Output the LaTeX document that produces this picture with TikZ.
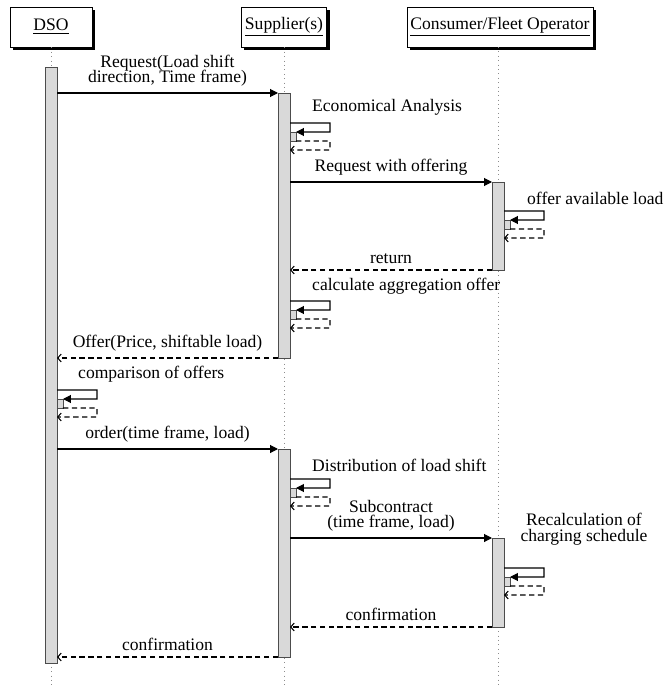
\documentclass[tikz,border=0pt]{standalone}
\usepackage{fontspec}
\setmainfont{Liberation Serif}
\usetikzlibrary{arrows.meta,shadows,fit}

\begin{document}
\begin{tikzpicture}[x=0.02cm, y=-0.02cm,
  actor/.style={draw, fill=white, line width=0.5pt, minimum width=1.64cm,
    minimum height=0.8cm, inner xsep=2pt,
    drop shadow={fill=black, opacity=1, shadow xshift=1.7pt, shadow yshift=-1.7pt}},
  life/.style={draw=black!45, dotted, line width=0.5pt},
  act/.style={draw=black!70, fill=gray!30, line width=0.5pt, inner sep=0pt, outer sep=0pt},
  call/.style={draw=black, line width=0.6pt, -{Triangle[length=4.5pt,width=4.5pt]}},
  ret/.style={draw=black, line width=0.6pt, dash pattern=on 3pt off 2pt,
    -{Straight Barb[length=2pt,width=4.5pt]}},
  every node/.style={font=\fontsize{10}{12}\selectfont}]
\useasboundingbox (0,0) rectangle (671,686);

% actors and lifelines
\node[actor] (dso) at (51,27) {\underline{DSO}};
\node[actor] (sup) at (284,27) {\underline{Supplier(s)}};
\node[actor] (con) at (500,27) {\underline{Consumer/Fleet Operator}};
\draw[life] (dso.south) -- (dso |- 0,686);
\draw[life] (sup.south) -- (sup |- 0,686);
\draw[life] (498,47) -- (498,686);

% activations
\node[act, fit={(45,67) (57,663)}] (d) {};
\node[act, fit={(278,93) (290,358)}] (s1) {};
\node[act, fit={(492,182) (504,270)}] (c1) {};
\node[act, fit={(278,449) (290,657)}] (s2) {};
\node[act, fit={(492,538) (504,627)}] (c2) {};

% messages
\draw[call] (d.east |- s1.north) -- node[above, align=center]
  {Request(Load shift\\[-3pt]direction, Time frame)} (s1.north west);
\draw[call] (s1.east |- c1.north) -- node[above] {Request with offering} (c1.north west);
\draw[ret] (c1.south west) -- node[above] {return} (s1.east |- c1.south);
\draw[ret] (s1.south west) -- node[above] {Offer(Price, shiftable load)} (d.east |- s1.south);
\draw[call] (d.east |- s2.north) -- node[above] {order(time frame, load)} (s2.north west);
\draw[call] (s2.east |- c2.north) -- node[above, align=center]
  {Subcontract\\[-3pt](time frame, load)} (c2.north west);
\draw[ret] (c2.south west) -- node[above] {confirmation} (s2.east |- c2.south);
\draw[ret] (s2.south west) -- node[above] {confirmation} (d.east |- s2.south);

% self calls
\foreach \a/\y in {s1/123, c1/211, s1/301, d/390, s2/479, c2/568} {
  \coordinate (top\y) at (\a.east |- 0,\y);
  \node[act, anchor=north west, minimum width=0.12cm, minimum height=0.18cm]
    (self\y) at ([yshift=-0.18cm]top\y) {};
  \draw[call] (top\y) -- ++(40,0) -- ++(0,9) -- (self\y.north east);
  \draw[ret] (self\y.south east) -- ++(34,0) -- ++(0,9) -- (\a.east |- 0,\y+27);
}
\node[anchor=base west] (l1) at (306,112) {Economical Analysis};
\node[anchor=base west] (l2) at (521,204) {offer available load};
\node[anchor=base west] (l3) at (306,290) {calculate aggregation offer};
\node[anchor=base west] (l4) at (72,378) {comparison of offers};
\node[anchor=base west] (l5) at (306,471) {Distribution of load shift};
\node[anchor=base, align=center] (l6) at (584,541) {Recalculation of\\[-3pt]charging schedule};
\end{tikzpicture}
\end{document}
